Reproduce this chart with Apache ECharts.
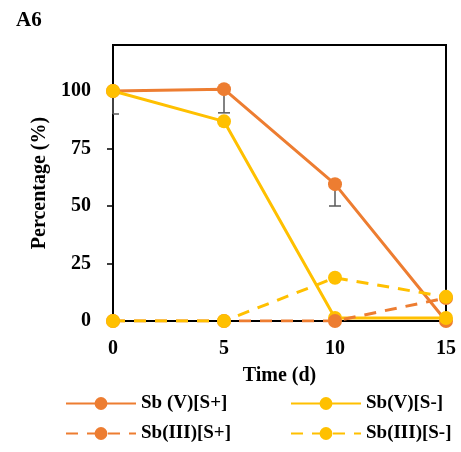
<!DOCTYPE html>
<html><head><meta charset="utf-8">
<script src="https://cdn.jsdelivr.net/npm/echarts@6/dist/echarts.min.js"></script>
<style>html,body{margin:0;padding:0;background:#fff}#c{width:461px;height:452px}</style>
</head><body><div id="c"></div>
<script>
const times = [0, 5, 10, 15];
const sbV_Splus = [100, 100.8, 59.5, 0];
const sbV_Sminus = [100, 86.8, 1.3, 1.3];
const sbIII_Splus = [0, 0, 0, 10];
const sbIII_Sminus = [0, 0, 18.8, 10.5];
const errLow_SbV_Splus = [90, 90.5, 50, 0];
const yTicks = [0, 25, 50, 75, 100];
const names = ['Sb (V)[S+]', 'Sb(V)[S-]', 'Sb(III)[S+]', 'Sb(III)[S-]'];

const ORANGE = '#ED7D31', YELLOW = '#FFC000';
const font = '"Liberation Serif", "Times New Roman", serif';
const pairs = a => times.map((t, i) => [t, a[i]]);

function lineSeries(name, data, color, dashed) {
  return {
    name, type: 'line', data: pairs(data),
    symbol: 'circle', symbolSize: 14,
    itemStyle: { color },
    lineStyle: { color, width: 3, type: dashed ? [12, 9] : 'solid' },
    z: 3
  };
}
const txt = { fontFamily: font, fontWeight: 'bold', fontSize: 20, color: '#000' };
const legTxt = Object.assign({}, txt, { fontSize: 19 });

const chart = echarts.init(document.getElementById('c'));
chart.setOption({
  animation: false,
  title: { text: 'A6', left: 11, top: 5, textStyle: Object.assign({}, txt, { fontSize: 21 }) },
  grid: { left: 113, right: 15, top: 45, bottom: 131, show: true, borderColor: '#000', borderWidth: 2 },
  xAxis: {
    type: 'value', min: 0, max: 15, interval: 5,
    name: 'Time (d)', nameLocation: 'middle', nameGap: 45,
    nameTextStyle: txt,
    axisLine: { lineStyle: { color: '#000', width: 2 } },
    axisTick: { show: false },
    splitLine: { show: false },
    axisLabel: Object.assign({}, txt, { margin: 18 })
  },
  yAxis: {
    type: 'value', min: 0, max: 120, interval: 25,
    name: 'Percentage (%)', nameLocation: 'middle', nameGap: 63,
    nameTextStyle: txt,
    axisLine: { show: true, lineStyle: { color: '#000', width: 2 } },
    axisTick: { show: true, length: 6, lineStyle: { color: '#000', width: 1.5 }, customValues: yTicks },
    splitLine: { show: false },
    axisLabel: Object.assign({}, txt, { margin: 22, customValues: yTicks })
  },
  legend: [
    { data: [names[0], names[2]], orient: 'vertical', left: 60, top: 389, itemWidth: 70, itemHeight: 16, itemGap: 11, itemTextGap: 6, textStyle: legTxt },
    { data: [names[1], names[3]], orient: 'vertical', left: 285, top: 389, itemWidth: 70, itemHeight: 16, itemGap: 11, itemTextGap: 6, textStyle: legTxt }
  ],
  series: [
    {
      type: 'custom', name: 'err', z: 1,
      data: times.map((t, i) => [t, sbV_Splus[i], errLow_SbV_Splus[i]]),
      renderItem: function (params, api) {
        const x = api.value(0), y = api.value(1), lo = api.value(2);
        if (y - lo < 0.5) return null;
        const cs = params.coordSys;
        const p1 = api.coord([x, y]), p2 = api.coord([x, lo]);
        const cx1 = Math.max(p2[0] - 6, cs.x), cx2 = Math.min(p2[0] + 6, cs.x + cs.width);
        return {
          type: 'group', children: [
            { type: 'line', shape: { x1: p1[0], y1: p1[1], x2: p2[0], y2: p2[1] }, style: { stroke: '#595959', lineWidth: 1.5 } },
            { type: 'line', shape: { x1: cx1, y1: p2[1], x2: cx2, y2: p2[1] }, style: { stroke: '#595959', lineWidth: 1.5 } }
          ]
        };
      }
    },
    lineSeries(names[0], sbV_Splus, ORANGE, false),
    lineSeries(names[1], sbV_Sminus, YELLOW, false),
    lineSeries(names[2], sbIII_Splus, ORANGE, true),
    lineSeries(names[3], sbIII_Sminus, YELLOW, true)
  ]
});
</script></body></html>
